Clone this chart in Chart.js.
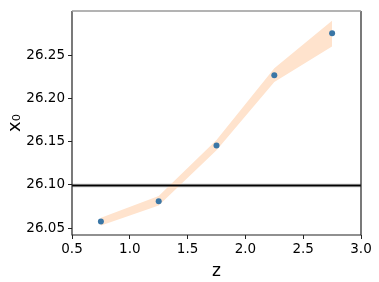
<!DOCTYPE html>
<html><head><meta charset="utf-8">
<script src="https://cdn.jsdelivr.net/npm/chart.js@4"></script>
<style>html,body{margin:0;padding:0;background:#fff}#w{width:379px;height:282px}</style>
</head><body><div id="w"><canvas id="c" width="379" height="282"></canvas></div>
<script>
const zValues = [0.75, 1.25, 1.75, 2.25, 2.75];
const x0Values = [26.0575, 26.0809, 26.1454, 26.2268, 26.2755];
const bandUpper = [26.062, 26.087, 26.152, 26.235, 26.290];
const bandLower = [26.053, 26.076, 26.140, 26.219, 26.260];
const refValue = 26.0993;
const refBand = [26.0967, 26.1020];
const xTicks = [0.5, 1.0, 1.5, 2.0, 2.5, 3.0];
const yTicks = [26.05, 26.10, 26.15, 26.20, 26.25];
const xRange = [0.5, 3.0];
const yRange = [26.042, 26.301];

const pts = (xs, ys) => xs.map((x, i) => ({x, y: ys[i]}));
const hline = v => xRange.map(x => ({x, y: v}));

const frame = {
  id: 'frame',
  afterDatasetsDraw(chart) {
    const {ctx, chartArea: a} = chart;
    ctx.save();
    ctx.lineWidth = 1.2;
    ctx.strokeStyle = '#222';
    ctx.beginPath();
    ctx.moveTo(a.left, a.top); ctx.lineTo(a.left, a.bottom); ctx.lineTo(a.right, a.bottom); ctx.lineTo(a.right, a.top);
    ctx.stroke();
    ctx.strokeStyle = '#9a9a9a';
    ctx.lineWidth = 1.5;
    ctx.beginPath(); ctx.moveTo(a.left, a.top); ctx.lineTo(a.right, a.top); ctx.stroke();
    ctx.restore();
  }
};

new Chart(document.getElementById('c'), {
  type: 'scatter',
  data: {
    datasets: [
      {data: hline(refBand[1]), showLine: true, borderWidth: 0, pointRadius: 0, fill: '+1', backgroundColor: '#e6e6e6', order: 5},
      {data: hline(refBand[0]), showLine: true, borderWidth: 0, pointRadius: 0, fill: false, order: 5},
      {data: pts(zValues, bandUpper), showLine: true, borderWidth: 0, pointRadius: 0, fill: '+1', backgroundColor: '#ffe3cd', order: 4},
      {data: pts(zValues, bandLower), showLine: true, borderWidth: 0, pointRadius: 0, fill: false, order: 4},
      {data: hline(refValue), showLine: true, borderWidth: 2, borderColor: '#000', pointRadius: 0, fill: false, order: 2},
      {data: pts(zValues, x0Values), showLine: false, pointRadius: 3, pointHoverRadius: 3, pointBackgroundColor: '#3a76a6', pointBorderWidth: 0, order: 1}
    ]
  },
  options: {
    responsive: false, animation: false, devicePixelRatio: 1,
    layout: {padding: {left: 0, right: 18, top: 6, bottom: 0}},
    plugins: {legend: {display: false}, tooltip: {enabled: false}},
    elements: {line: {tension: 0}},
    scales: {
      x: {
        type: 'linear', min: xRange[0], max: xRange[1],
        afterBuildTicks: s => { s.ticks = xTicks.map(v => ({value: v})); },
        afterFit: s => { s.height = 47; },
        grid: {display: true, drawOnChartArea: false, tickLength: 4, color: '#222', tickWidth: 1},
        border: {display: false},
        ticks: {color: '#000', font: {family: 'DejaVu Sans', size: 13.5}, padding: 2, maxRotation: 0, callback: v => v.toFixed(1)},
        title: {display: true, text: 'z', color: '#000', font: {family: 'DejaVu Sans', size: 17}, padding: {top: 0, bottom: 0}}
      },
      y: {
        type: 'linear', min: yRange[0], max: yRange[1],
        afterBuildTicks: s => { s.ticks = yTicks.map(v => ({value: v})); },
        afterFit: s => { s.width = 72; },
        grid: {display: true, drawOnChartArea: false, tickLength: 4, color: '#222', tickWidth: 1},
        border: {display: false},
        ticks: {color: '#000', font: {family: 'DejaVu Sans', size: 13.5}, padding: 3, callback: v => v.toFixed(2)},
        title: {display: true, text: 'x₀', color: '#000', font: {family: 'DejaVu Sans', size: 18}, padding: {top: 5, bottom: 0}}
      }
    }
  },
  plugins: [frame]
});
</script></body></html>
